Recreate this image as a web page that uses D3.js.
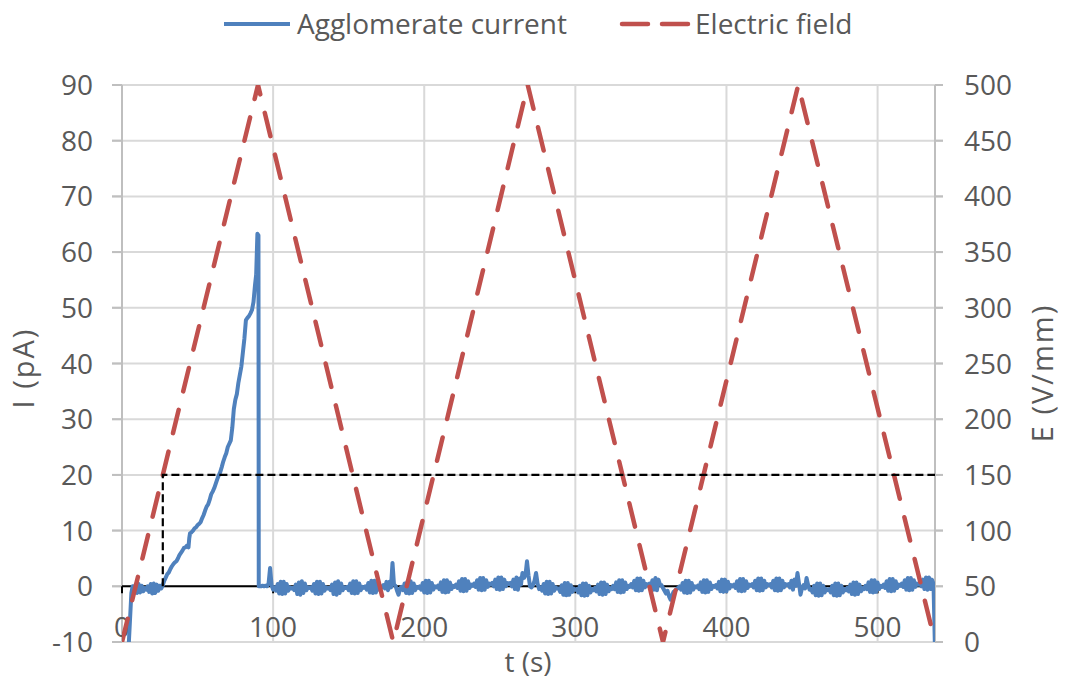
<!DOCTYPE html>
<html>
<head>
<meta charset="utf-8">
<script src="https://cdn.jsdelivr.net/npm/d3@7"></script>
<style>
  body { margin: 0; background: #fff; }
  text { font-family: "Open Sans", sans-serif; fill: #595959; }
</style>
</head>
<body>
<script>
// ---- data ----
const xTicks = [0, 100, 200, 300, 400, 500]
const iTicks = [-10, 0, 10, 20, 30, 40, 50, 60, 70, 80, 90]
const eTicks = [0, 50, 100, 150, 200, 250, 300, 350, 400, 450, 500]

// electric field triangle ramps (V/mm)
const fieldT = [0, 90, 179.5, 268.5, 358, 447.5, 538]
const fieldE = [0, 500, 0, 500, 0, 500, 0]

// threshold guide (black dashed), on the E axis
const thresholdT = [27, 27, 538]
const thresholdE = [50, 150, 150]

// agglomerate current, first part (t, I)
const currentT = [3.8, 6.2, 7, 8, 9, 10, 11, 12, 13, 14, 15, 16, 17, 18, 19, 20, 21, 22, 23, 24, 25, 26,
  27, 28, 29, 30, 31, 32, 33, 34, 35, 36, 37, 38, 39, 40, 41, 42, 43, 44, 44.5, 45, 46, 47, 48, 49, 50,
  51, 52, 53, 54, 55, 56, 57, 58, 59, 60, 61, 62, 63, 64, 65, 66, 67, 68, 69, 70, 71, 72, 73, 74, 75,
  76, 77, 78, 79, 80, 81, 82, 83, 84, 85, 86, 87, 88, 88.8, 89.6, 90.3, 90.5]
const currentI = [-14, -1.2, 0.0, -1.0, 0.3, -1.2, 0.4, -1.1, 0.1, -0.9, -0.3, -0.6, 0.0, -1.0, 0.4, -1.3, 0.5, -1.2, 0.3, -0.8, 0.1, -0.4,
  0.2, 1.0, 1.6, 2.2, 2.5, 3.1, 3.6, 4.0, 4.3, 4.5, 5.0, 5.6, 6.0, 6.4, 6.9, 7.0, 7.3, 7.0, 8.6, 9.5, 9.7, 10.0, 10.4, 10.6, 11.0,
  11.2, 11.5, 12.2, 12.8, 13.6, 14.3, 14.7, 15.5, 16.5, 17.0, 17.6, 18.4, 19.2, 19.9, 20.5, 21.4, 22.4, 23.2, 23.9, 25.0, 25.6, 26.2, 28.5, 31.8, 33.5,
  34.5, 36.5, 38.0, 39.5, 42.0, 44.5, 47.8, 48.2, 48.5, 49.0, 49.6, 51.0, 54.0, 56.0, 63.3, 63.0, 0.0]

// agglomerate current after the drop, one sample per second from t = 91
const noiseStart = 91
const noiseI = [
  0.1, 0.0, 0.1, 0.0, 0.1, 0.0,                                   // 91
  0.5, 3.3, 0.2, -0.6,                                            // 97
  -0.2, -0.8, 0.4, -1.3, 0.8, -1.4, 0.8, -1.3, 0.4, -0.8, -0.2, -0.4,   // 101
  -0.3, -0.7, 0.3, -1.4, 0.7, -1.5, 0.9, -1.2, 0.5, -0.7, -0.2, -0.3,   // 113
  -0.2, -0.8, 0.4, -1.3, 0.8, -1.4, 0.8, -1.3, 0.4, -0.8, -0.2, -0.4,   // 125
  -0.3, -0.7, 0.3, -1.4, 0.7, -1.5, 0.9, -1.2, 0.5, -0.7, -0.2, -0.3,   // 137
  -0.1, -0.7, 0.5, -1.2, 0.9, -1.3, 0.9, -1.2, 0.5, -0.7, -0.1, -0.3,   // 149
  0.0, -0.6, 0.6, -1.1, 1.0, -1.2, 1.0, -1.1, 0.6, -0.6, 0.0, -0.2,     // 161
  0.2, -0.4, 0.8, -0.7, 0.8, -0.2,                                // 173
  4.2, 0.3, 0.1, -0.8, -1.5, -0.4,                                // 179
  -0.1, -0.7, 0.5, -1.2, 0.9, -1.3, 0.9, -1.2, 0.5, -0.7, -0.1, -0.3,   // 185
  0.0, -0.6, 0.6, -1.1, 1.0, -1.2, 1.0, -1.1, 0.6, -0.6, 0.0, -0.2,     // 197
  0.1, -0.5, 0.7, -1.0, 1.1, -1.1, 1.1, -1.0, 0.7, -0.5, 0.1, -0.1,     // 209
  0.3, -0.3, 0.9, -0.8, 1.3, -0.9, 1.3, -0.8, 0.9, -0.3, 0.3, 0.1,      // 221
  0.5, -0.1, 1.1, -0.6, 1.5, -0.7, 1.5, -0.6, 1.1, -0.1, 0.5, 0.3,      // 233
  0.6, 0.0, 1.2, -0.5, 1.6, -0.6, 1.6, -0.5, 1.2, 0.0, 0.6, 0.4,        // 245
  0.6, 0.0, 1.2, -0.5, 1.6, -0.6, 1.4, 0.3,                       // 257
  2.4, 1.5, 2.0, 4.5, 2.0, 0.0, -0.2, 0.2, 1.0, 2.4, 0.5, -0.5,   // 265
  -0.2, -0.8, 0.4, -1.3, 0.8, -1.4, 0.8, -1.3, 0.4, -0.8, -0.2, -0.4,   // 277
  -0.4, -1.0, 0.2, -1.5, 0.6, -1.6, 0.6, -1.5, 0.2, -1.0, -0.4, -0.6,   // 289
  -0.5, -1.1, 0.1, -1.6, 0.5, -1.7, 0.5, -1.6, 0.1, -1.1, -0.5, -0.7,   // 301
  -0.3, -0.9, 0.3, -1.4, 0.7, -1.5, 0.7, -1.4, 0.3, -0.9, -0.3, -0.5,   // 313
  0.1, -0.5, 0.7, -1.0, 1.1, -1.1, 1.1, -1.0, 0.7, -0.5, 0.1, -0.1,     // 325
  0.4, -0.2, 1.0, -0.7, 1.4, -0.8, 1.4, -0.7, 1.0, -0.2, 0.4, 0.2,      // 337
  0.5, -0.1, 1.1, -0.6, 1.5, -0.7, 1.2, 0.3,                      // 349
  0.2, -0.3, -0.8, -1.3, -0.8, -1.8, -2.4, -1.6, -1.0, -0.8, -0.5, -0.3, // 357
  0.0, -0.6, 0.6, -1.1, 1.0, -1.2, 1.0, -1.1, 0.6, -0.6, 0.0, -0.2,     // 369
  0.1, -0.5, 0.7, -1.0, 1.1, -1.1, 1.1, -1.0, 0.7, -0.5, 0.1, -0.1,     // 381
  0.2, -0.4, 0.8, -0.9, 1.2, -1.0, 1.2, -0.9, 0.8, -0.4, 0.2, 0.0,      // 393
  0.3, -0.3, 0.9, -0.8, 1.3, -0.9, 1.3, -0.8, 0.9, -0.3, 0.3, 0.1,      // 405
  0.4, -0.2, 1.0, -0.7, 1.4, -0.8, 1.4, -0.7, 1.0, -0.2, 0.4, 0.2,      // 417
  0.4, -0.2, 1.0, -0.7, 1.4, -0.8, 1.4, -0.7, 1.0, -0.2, 0.4, 0.2,      // 429
  0.4, -0.2, 1.0, -0.6, 1.2, 0.1,                                 // 441
  2.4, 0.5, -1.5, -0.3, 0.2, -0.4, 1.5, 0.3, -0.6,                // 447
  -0.5, -1.1, 0.1, -1.6, 0.5, -1.7, 0.5, -1.6, 0.1, -1.1, -0.5, -0.7,   // 456
  -0.5, -1.1, 0.1, -1.6, 0.5, -1.7, 0.5, -1.6, 0.1, -1.1, -0.5, -0.7,   // 468
  -0.3, -0.9, 0.3, -1.4, 0.7, -1.5, 0.7, -1.4, 0.3, -0.9, -0.3, -0.5,   // 480
  0.1, -0.5, 0.7, -1.0, 1.1, -1.1, 1.1, -1.0, 0.7, -0.5, 0.1, -0.1,     // 492
  0.3, -0.3, 0.9, -0.8, 1.3, -0.9, 1.3, -0.8, 0.9, -0.3, 0.3, 0.1,      // 504
  0.5, -0.1, 1.1, -0.6, 1.5, -0.7, 1.5, -0.6, 1.1, -0.1, 0.5, 0.3,      // 516
  0.6, 0.0, 1.2, -0.5, 1.6, -0.6, 1.6, -0.5, 1.2, 0.5             // 528
]
const tailT = [538.2]
const tailI = [-14]

//------------------------------------------------------------------------------

const width = 1065
const height = 682
const plot = { left: 122, right: 935, top: 85, bottom: 642 }
const blue = "#4F81BD"
const red = "#C0504D"
const grid = "#D9D9D9"
const axisGrey = "#BFBFBF"

const svg = d3.select("body")
    .append("svg")
    .attr("width", width)
    .attr("height", height)

const x = d3.scaleLinear().domain([0, 538]).range([plot.left, plot.right])
const yI = d3.scaleLinear().domain([-10, 90]).range([plot.bottom, plot.top])
const yE = d3.scaleLinear().domain([0, 500]).range([plot.bottom, plot.top])

svg.append("clipPath")
    .attr("id", "plot-clip")
    .append("rect")
    .attr("x", plot.left)
    .attr("y", plot.top)
    .attr("width", plot.right - plot.left)
    .attr("height", plot.bottom - plot.top)

//------------------------------------------------------------------------------
// gridlines + axes

svg.append("g")
    .selectAll("line")
    .data(iTicks)
    .join("line")
    .attr("x1", plot.left - 10)
    .attr("x2", plot.right + 8)
    .attr("y1", d => yI(d))
    .attr("y2", d => yI(d))
    .attr("stroke", grid)
    .attr("stroke-width", 2)

svg.append("g")
    .selectAll("line")
    .data(xTicks.filter(d => d > 0))
    .join("line")
    .attr("x1", d => x(d))
    .attr("x2", d => x(d))
    .attr("y1", plot.top)
    .attr("y2", plot.bottom)
    .attr("stroke", grid)
    .attr("stroke-width", 2)

// left / right axis lines and their ticks
svg.append("line")
    .attr("x1", plot.left).attr("x2", plot.left)
    .attr("y1", plot.top).attr("y2", plot.bottom)
    .attr("stroke", axisGrey).attr("stroke-width", 2)

svg.append("line")
    .attr("x1", plot.right).attr("x2", plot.right)
    .attr("y1", plot.top).attr("y2", plot.bottom)
    .attr("stroke", axisGrey).attr("stroke-width", 2)

svg.append("g")
    .selectAll("line")
    .data(iTicks)
    .join("line")
    .attr("x1", plot.left - 10).attr("x2", plot.left)
    .attr("y1", d => yI(d)).attr("y2", d => yI(d))
    .attr("stroke", axisGrey).attr("stroke-width", 2)

svg.append("g")
    .selectAll("line")
    .data(eTicks)
    .join("line")
    .attr("x1", plot.right).attr("x2", plot.right + 8)
    .attr("y1", d => yE(d)).attr("y2", d => yE(d))
    .attr("stroke", axisGrey).attr("stroke-width", 2)

// x axis crosses at I = 0
svg.append("line")
    .attr("x1", plot.left).attr("x2", plot.right)
    .attr("y1", yI(0)).attr("y2", yI(0))
    .attr("stroke", "#000").attr("stroke-width", 2)

svg.append("g")
    .selectAll("line")
    .data(xTicks)
    .join("line")
    .attr("x1", d => x(d)).attr("x2", d => x(d))
    .attr("y1", yI(0)).attr("y2", yI(0) + 7)
    .attr("stroke", "#000").attr("stroke-width", 2)

// tick labels
svg.append("g")
    .selectAll("text")
    .data(iTicks)
    .join("text")
    .attr("x", 93)
    .attr("y", d => yI(d))
    .attr("dy", "0.36em")
    .attr("text-anchor", "end")
    .style("font-size", "28px")
    .text(d => d)

svg.append("g")
    .selectAll("text")
    .data(eTicks)
    .join("text")
    .attr("x", 964)
    .attr("y", d => yE(d))
    .attr("dy", "0.36em")
    .style("font-size", "28px")
    .text(d => d)

svg.append("g")
    .selectAll("text")
    .data(xTicks)
    .join("text")
    .attr("x", d => x(d))
    .attr("y", 637)
    .attr("text-anchor", "middle")
    .style("font-size", "28px")
    .text(d => d)

// axis titles
svg.append("text")
    .attr("text-anchor", "middle")
    .attr("transform", "translate(34,368) rotate(-90)")
    .style("font-size", "29px")
    .style("letter-spacing", "2px")
    .text("I (pA)")

svg.append("text")
    .attr("text-anchor", "middle")
    .attr("transform", "translate(1053,373) rotate(-90)")
    .style("font-size", "29px")
    .style("letter-spacing", "2px")
    .text("E (V/mm)")

svg.append("text")
    .attr("text-anchor", "middle")
    .attr("x", 528)
    .attr("y", 672)
    .style("font-size", "28px")
    .text("t (s)")

//------------------------------------------------------------------------------
// series

let currentPts = currentT.map((t, i) => [t, currentI[i]])
noiseI.forEach((v, i) => currentPts.push([noiseStart + i, v]))
tailT.forEach((t, i) => currentPts.push([t, tailI[i]]))

const lineI = d3.line().x(d => x(d[0])).y(d => yI(d[1]))
const lineE = d3.line().x(d => x(d[0])).y(d => yE(d[1]))

const series = svg.append("g").attr("clip-path", "url(#plot-clip)")

series.append("path")
    .datum(currentPts)
    .attr("d", lineI)
    .attr("fill", "none")
    .attr("stroke", blue)
    .attr("stroke-width", 4)
    .attr("stroke-linejoin", "round")

series.append("path")
    .datum(fieldT.map((t, i) => [t, fieldE[i]]))
    .attr("d", lineE)
    .attr("fill", "none")
    .attr("stroke", red)
    .attr("stroke-width", 4.5)
    .attr("stroke-dasharray", "24,19")
    .attr("stroke-linecap", "round")

series.append("path")
    .datum(thresholdT.map((t, i) => [t, thresholdE[i]]))
    .attr("d", lineE)
    .attr("fill", "none")
    .attr("stroke", "#000")
    .attr("stroke-width", 2.2)
    .attr("stroke-dasharray", "8,4")

//------------------------------------------------------------------------------
// legend

svg.append("line")
    .attr("x1", 224).attr("x2", 290)
    .attr("y1", 24).attr("y2", 24)
    .attr("stroke", blue).attr("stroke-width", 4)

svg.append("text")
    .attr("x", 297)
    .attr("y", 34)
    .style("font-size", "28px")
    .text("Agglomerate current")

svg.append("line")
    .attr("x1", 622).attr("x2", 688)
    .attr("y1", 24).attr("y2", 24)
    .attr("stroke", red).attr("stroke-width", 4.5)
    .attr("stroke-dasharray", "26,14")
    .attr("stroke-linecap", "round")

svg.append("text")
    .attr("x", 695)
    .attr("y", 34)
    .style("font-size", "28px")
    .text("Electric field")
</script>
</body>
</html>
